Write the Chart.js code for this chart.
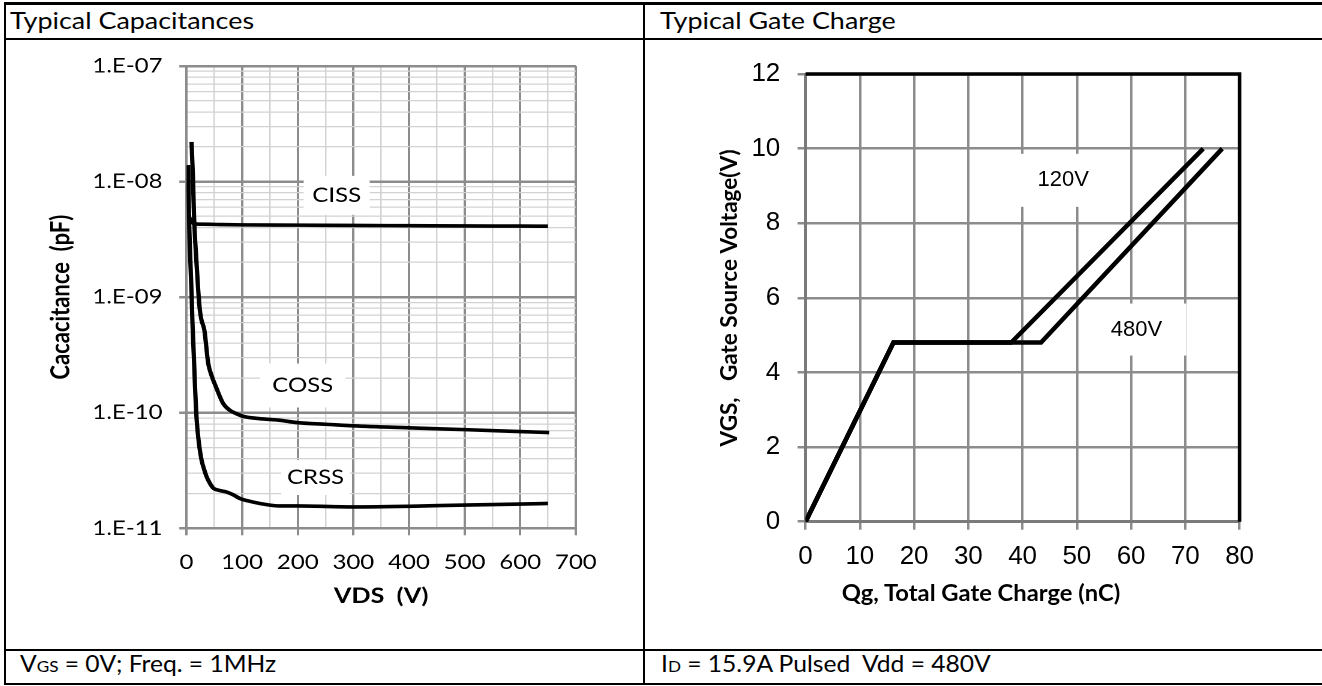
<!DOCTYPE html>
<html>
<head>
<meta charset="utf-8">
<script src="https://cdn.jsdelivr.net/npm/chart.js@4.4.1/dist/chart.umd.min.js"></script>
<style>
  html, body { margin: 0; padding: 0; background: #fff; }
  body { width: 1322px; height: 686px; position: relative; overflow: hidden; font-family: Lato, sans-serif; color: #000; }
  .rule { position: absolute; background: #000; }
  .cell-text { position: absolute; font-size: 23px; line-height: 23px; white-space: nowrap; transform-origin: 0 0; transform: scaleX(1.17); }
  .cell-text.foot { transform: scaleX(1.07); }
  .cell-text .sub { font-size: 16px; }
  #capWrap { position: absolute; left: 7px; top: 40px; width: 530px; height: 610px; transform-origin: 0 0; transform: scaleX(1.2); }
  #gateWrap { position: absolute; left: 645px; top: 40px; width: 677px; height: 610px; }
  #gateXTitle { position: absolute; left: 731px; top: 582px; width: 500px; text-align: center; font: bold 22px/22px Lato, sans-serif; white-space: nowrap; transform: scaleX(1.08); }
</style>
</head>
<body>
<div class="rule" style="left:4px;top:2px;width:1318px;height:3px"></div>
<div class="rule" style="left:4px;top:38px;width:1318px;height:2px"></div>
<div class="rule" style="left:4px;top:649px;width:1318px;height:2px"></div>
<div class="rule" style="left:4px;top:683px;width:1318px;height:2px"></div>
<div class="rule" style="left:4px;top:2px;width:2px;height:683px"></div>
<div class="rule" style="left:643px;top:2px;width:2px;height:683px"></div>

<div class="cell-text" style="left:10px;top:9px">Typical Capacitances</div>
<div class="cell-text" style="left:660px;top:9px">Typical Gate Charge</div>
<div class="cell-text foot" style="left:20px;top:652px">V<span class="sub">GS</span> = 0V; Freq. = 1MHz</div>
<div class="cell-text foot" style="left:661px;top:652px">I<span class="sub">D</span> = 15.9A Pulsed&nbsp; Vdd = 480V</div>

<div id="capWrap"><canvas id="capChart"></canvas></div>
<div id="gateWrap"><canvas id="gateChart"></canvas></div>
<div id="gateXTitle">Qg, Total Gate Charge (nC)</div>

<script>
// capacitance curves (VDS in V)
const cissVds = [4, 9, 15, 30, 60, 100, 200, 300, 400, 500, 600, 650];
const cissCap = [5.0e-9, 4.5e-9, 4.3e-9, 4.28e-9, 4.25e-9, 4.22e-9, 4.2e-9, 4.17e-9, 4.15e-9, 4.13e-9, 4.12e-9, 4.11e-9];

const cossVds = [9, 11.5, 13.5, 18, 21, 24, 27, 32, 39, 45, 53, 66, 78, 90, 102, 130, 168, 200, 250, 300, 400, 500, 600, 652];
const cossCap = [2.2e-8, 1.1e-8, 5.0e-9, 1.96e-9, 1.15e-9, 7.7e-10, 6.3e-10, 5.2e-10, 2.67e-10, 2.1e-10, 1.67e-10, 1.2e-10, 1.05e-10, 9.8e-11, 9.3e-11, 8.9e-11, 8.6e-11, 8.2e-11, 7.95e-11, 7.7e-11, 7.4e-11, 7.14e-11, 6.87e-11, 6.73e-11];

const crssVds = [3, 4.5, 7, 9.3, 10.5, 12.9, 15.3, 18.3, 22, 27, 32, 36, 42, 48, 60, 72, 84, 96, 112, 132, 168, 200, 300, 400, 500, 600, 650];
const crssCap = [1.39e-8, 5.0e-9, 2.0e-9, 1.0e-9, 6.3e-10, 3.3e-10, 1.67e-10, 8.6e-11, 5.6e-11, 3.9e-11, 3.2e-11, 2.8e-11, 2.45e-11, 2.23e-11, 2.12e-11, 2.06e-11, 1.95e-11, 1.81e-11, 1.72e-11, 1.64e-11, 1.56e-11, 1.56e-11, 1.53e-11, 1.55e-11, 1.59e-11, 1.62e-11, 1.64e-11];

const vdsTickLabels = ['0', '100', '200', '300', '400', '500', '600', '700'];
const capTickLabels = ['1.E-11', '1.E-10', '1.E-09', '1.E-08', '1.E-07'];
const capCurveNames = ['CISS', 'COSS', 'CRSS'];

// gate charge curves (Qg in nC, VGS in V)
const qg120 = [0, 16.2, 37.9, 73.3];
const vgs120 = [0, 4.8, 4.8, 10];
const qg480 = [0, 16.2, 43.4, 76.8];
const vgs480 = [0, 4.8, 4.8, 10];

const qgTickLabels = ['0', '10', '20', '30', '40', '50', '60', '70', '80'];
const vgsTickLabels = ['0', '2', '4', '6', '8', '10', '12'];
const gateCurveNames = ['120V', '480V'];

// where the boxed curve names sit (data units) and how big the white box is
const capNameAt = [[270, 7.6e-9], [209, 1.72e-10], [232, 2.75e-11]];
const capNameBox = [[55, 39], [71, 44], [57, 35]];
const gateNameAt = [[47.5, 9.15], [61, 5.15]];
const gateNameBox = [[103, 53], [100, 52]];

const toPoints = (xs, ys) => xs.map((x, i) => ({ x: x, y: ys[i] }));

// minor grid: every 50 V, and 1..9 per decade
const vdsMajor = vdsTickLabels.map(Number);
const vdsGrid = [];
vdsMajor.forEach((v, i) => {
  vdsGrid.push(v);
  if (i < vdsMajor.length - 1) vdsGrid.push((v + vdsMajor[i + 1]) / 2);
});
const capDecades = capTickLabels.map(Number);
const capGrid = [];
capDecades.forEach((d, i) => {
  if (i === capDecades.length - 1) { capGrid.push(d); return; }
  for (let m = 1; m <= 9; m++) capGrid.push(m * d);
});
const isVdsMajor = (v) => vdsMajor.includes(v);
const decadeIndex = (v) => capDecades.findIndex((d) => Math.abs(v / d - 1) < 1e-6);

const MAJOR = '#8c8c8c';
const MINOR = '#d2d2d2';

function boxedNames(id, names, at, box, font) {
  return {
    id: id,
    beforeDatasetsDraw(chart) {
      const { ctx, scales } = chart;
      ctx.save();
      names.forEach((name, i) => {
        const px = scales.x.getPixelForValue(at[i][0]);
        const py = scales.y.getPixelForValue(at[i][1]);
        const [w, h] = box[i];
        ctx.fillStyle = '#fff';
        ctx.fillRect(px - w / 2, py - h / 2, w, h);
        ctx.fillStyle = '#000';
        ctx.font = font;
        ctx.textAlign = 'center';
        ctx.textBaseline = 'middle';
        ctx.fillText(name, px, py);
      });
      ctx.restore();
    }
  };
}

const blackFrame = {
  id: 'blackFrame',
  beforeDatasetsDraw(chart) {
    const { ctx, chartArea: a } = chart;
    ctx.save();
    ctx.strokeStyle = '#000';
    ctx.lineWidth = 3.5;
    ctx.beginPath();
    ctx.moveTo(a.left, a.top);
    ctx.lineTo(a.right, a.top);
    ctx.lineTo(a.right, a.bottom);
    ctx.stroke();
    ctx.restore();
  }
};

const curveStyle = {
  showLine: true,
  borderColor: '#000',
  borderWidth: 3.6,
  pointRadius: 0,
  cubicInterpolationMode: 'monotone',
  fill: false
};

// ---- Typical Capacitances ----
new Chart(document.getElementById('capChart'), {
  type: 'scatter',
  data: {
    datasets: [
      Object.assign({ label: capCurveNames[0], data: toPoints(cissVds, cissCap) }, curveStyle),
      Object.assign({ label: capCurveNames[1], data: toPoints(cossVds, cossCap) }, curveStyle),
      Object.assign({ label: capCurveNames[2], data: toPoints(crssVds, crssCap) }, curveStyle)
    ]
  },
  options: {
    responsive: true,
    maintainAspectRatio: false,
    devicePixelRatio: 2,
    animation: false,
    layout: { autoPadding: false, padding: { left: 0, right: 56, top: 26, bottom: 0 } },
    plugins: { legend: { display: false }, tooltip: { enabled: false } },
    scales: {
      x: {
        type: 'linear',
        min: 0,
        max: 700,
        afterBuildTicks: (s) => { s.ticks = vdsGrid.map((v) => ({ value: v })); },
        afterFit: (s) => { s.height = 121.7; },
        ticks: {
          autoSkip: false,
          maxRotation: 0,
          padding: 15,
          color: '#000',
          font: { family: 'Lato', size: 20 },
          callback: (v) => (isVdsMajor(v) ? vdsTickLabels[vdsMajor.indexOf(v)] : '')
        },
        grid: {
          color: (c) => (c.tick && isVdsMajor(c.tick.value) ? MAJOR : MINOR),
          lineWidth: (c) => (c.tick && isVdsMajor(c.tick.value) ? 2 : 1.2),
          tickColor: (c) => (c.tick && isVdsMajor(c.tick.value) ? MAJOR : 'rgba(0,0,0,0)'),
          tickLength: 7
        },
        border: { color: MAJOR, width: 2 },
        title: {
          display: true,
          text: 'VDS  (V)',
          color: '#000',
          font: { family: 'Lato', size: 21, weight: 'bold' },
          padding: { top: 0, bottom: 41.4 }
        }
      },
      y: {
        type: 'logarithmic',
        min: 1e-11,
        max: 1e-7,
        afterBuildTicks: (s) => { s.ticks = capGrid.map((v) => ({ value: v })); },
        afterFit: (s) => { s.width = 149.6; },
        ticks: {
          autoSkip: false,
          padding: 14,
          color: '#000',
          font: { family: 'Lato', size: 20 },
          callback: (v) => { const i = decadeIndex(v); return i >= 0 ? capTickLabels[i] : ''; }
        },
        grid: {
          color: (c) => (c.tick && decadeIndex(c.tick.value) >= 0 ? MAJOR : MINOR),
          lineWidth: (c) => (c.tick && decadeIndex(c.tick.value) >= 0 ? 2.5 : 1.3),
          tickColor: (c) => (c.tick && decadeIndex(c.tick.value) >= 0 ? MAJOR : 'rgba(0,0,0,0)'),
          tickLength: 6
        },
        border: { color: MAJOR, width: 2 },
        title: {
          display: true,
          text: 'Cacacitance  (pF)',
          color: '#000',
          font: { family: 'Lato', size: 22, weight: 'bold' },
          padding: { top: 31.6, bottom: 0 }
        }
      }
    }
  },
  plugins: [boxedNames('capNames', capCurveNames, capNameAt, capNameBox, '20px Lato')]
});

// ---- Typical Gate Charge ----
new Chart(document.getElementById('gateChart'), {
  type: 'scatter',
  data: {
    datasets: [
      { label: gateCurveNames[1], data: toPoints(qg480, vgs480), showLine: true, borderColor: '#000', borderWidth: 4.5, pointRadius: 0, tension: 0 },
      { label: gateCurveNames[0], data: toPoints(qg120, vgs120), showLine: true, borderColor: '#000', borderWidth: 4.5, pointRadius: 0, tension: 0 }
    ]
  },
  options: {
    responsive: true,
    maintainAspectRatio: false,
    animation: false,
    layout: { autoPadding: false, padding: { left: 0, right: 82.4, top: 34, bottom: 0 } },
    plugins: { legend: { display: false }, tooltip: { enabled: false } },
    scales: {
      x: {
        type: 'linear',
        min: 0,
        max: 80,
        afterBuildTicks: (s) => { s.ticks = qgTickLabels.map((t) => ({ value: Number(t) })); },
        afterFit: (s) => { s.height = 128.3; },
        ticks: {
          autoSkip: false,
          maxRotation: 0,
          padding: 11.4,
          color: '#000',
          font: { family: 'Liberation Sans', size: 26 },
          callback: (v) => qgTickLabels[qgTickLabels.indexOf(String(v))]
        },
        grid: { color: MAJOR, lineWidth: 2.5, tickColor: MAJOR, tickLength: 8 },
        border: { color: '#7a7a7a', width: 3 }
      },
      y: {
        type: 'linear',
        min: 0,
        max: 12,
        afterBuildTicks: (s) => { s.ticks = vgsTickLabels.map((t) => ({ value: Number(t) })); },
        afterFit: (s) => { s.width = 160.6; },
        ticks: {
          autoSkip: false,
          padding: 17.3,
          color: '#000',
          font: { family: 'Liberation Sans', size: 26 },
          callback: (v) => vgsTickLabels[vgsTickLabels.indexOf(String(v))]
        },
        grid: { color: MAJOR, lineWidth: 2.5, tickColor: MAJOR, tickLength: 8 },
        border: { color: '#7a7a7a', width: 3 },
        title: {
          display: true,
          text: 'VGS,   Gate Source Voltage(V)',
          color: '#000',
          font: { family: 'Lato', size: 22.5, weight: 'bold' },
          padding: { top: 71.2, bottom: 0 }
        }
      }
    }
  },
  plugins: [blackFrame, boxedNames('gateNames', gateCurveNames, gateNameAt, gateNameBox, '22px "Liberation Sans"')]
});
</script>
</body>
</html>
